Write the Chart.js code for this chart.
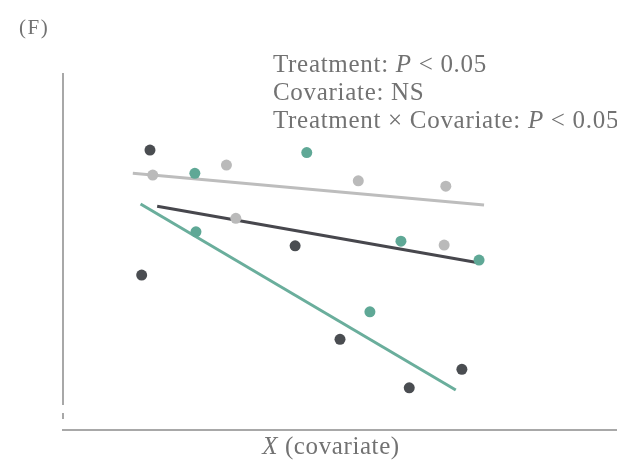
<!DOCTYPE html>
<html lang="en">
<head>
    <meta charset="UTF-8">
    <title>(F) X covariate</title>
    <script src="https://cdn.jsdelivr.net/npm/chart.js@4.4.1/dist/chart.umd.min.js"></script>
    <style>
        html, body { margin: 0; padding: 0; background: #fff; }
        canvas { display: block; }
    </style>
</head>
<body>
    <canvas id="chart" width="617" height="472"></canvas>
    <script>
        // точки трёх групп (x, y в условных единицах 0..100)
        const darkX = [15.7, 14.2, 41.9, 50.0, 62.5, 72.0];
        const darkY = [78.4, 43.4, 51.6, 25.4, 11.8, 17.0];
        const tealX = [23.8, 24.0, 44.0, 61.0, 55.4, 75.1];
        const tealY = [71.9, 55.5, 77.7, 52.9, 33.1, 47.6];
        const greyX = [16.2, 29.5, 31.2, 53.3, 69.1, 68.8];
        const greyY = [71.4, 74.2, 59.3, 69.8, 68.3, 51.8];

        // линии регрессии: начало и конец
        const greyFitX = [12.6, 76.0];
        const greyFitY = [71.9, 63.0];
        const darkFitX = [17.0, 74.7];
        const darkFitY = [62.7, 46.9];
        const tealFitX = [14.0, 70.9];
        const tealFitY = [63.3, 11.2];

        const panelLabel = '(F)';
        const statLines = [
            [['Treatment: ', false], ['P', true], [' < 0.05', false]],
            [['Covariate: NS', false]],
            [['Treatment × Covariate: ', false], ['P', true], [' < 0.05', false]]
        ];
        const xTitle = [['X', true], [' (covariate)', false]];

        const toPoints = (xs, ys) => xs.map((x, i) => ({ x: x, y: ys[i] }));

        const DARK = '#4a4d51';
        const TEAL = '#5fa896';
        const GREY = '#bababa';
        const TEXT = '#727272';

        function drawRich(ctx, parts, x, y, size, spacing, align) {
            const fontOf = it => (it ? 'italic ' : '') + size + 'px "Liberation Serif", "DejaVu Serif", serif';
            ctx.letterSpacing = spacing + 'px';
            let total = 0;
            parts.forEach(p => { ctx.font = fontOf(p[1]); total += ctx.measureText(p[0]).width; });
            let cx = align === 'center' ? x - total / 2 : x;
            ctx.textAlign = 'left';
            ctx.textBaseline = 'alphabetic';
            parts.forEach(p => {
                ctx.font = fontOf(p[1]);
                ctx.fillText(p[0], cx, y);
                cx += ctx.measureText(p[0]).width;
            });
        }

        const decor = {
            id: 'decor',
            afterDraw(chart) {
                const ctx = chart.ctx;
                const a = chart.chartArea;
                ctx.save();
                // оси
                ctx.strokeStyle = '#a8a8a8';
                ctx.lineWidth = 2;
                ctx.beginPath();
                ctx.moveTo(a.left, a.top);
                ctx.lineTo(a.left, a.bottom - 25);
                ctx.moveTo(a.left, a.bottom - 17);
                ctx.lineTo(a.left, a.bottom - 11);
                ctx.moveTo(a.left - 1, a.bottom);
                ctx.lineTo(a.right, a.bottom);
                ctx.stroke();

                ctx.fillStyle = TEXT;
                drawRich(ctx, [[panelLabel, false]], 19, 34, 21, 1.5, 'left');
                statLines.forEach((line, i) => {
                    drawRich(ctx, line, 273, 72 + i * 28, 25, 0.7, 'left');
                });
                drawRich(ctx, xTitle, 331, 454, 25, 0.6, 'center');
                ctx.restore();
            }
        };

        const pointSet = (xs, ys, color) => ({
            type: 'scatter',
            data: toPoints(xs, ys),
            backgroundColor: color,
            borderColor: color,
            pointRadius: 5.5,
            borderWidth: 0,
            order: 1
        });

        const lineSet = (xs, ys, color) => ({
            type: 'line',
            data: toPoints(xs, ys),
            borderColor: color,
            borderWidth: 3,
            pointRadius: 0,
            fill: false,
            tension: 0,
            order: 2
        });

        new Chart(document.getElementById('chart').getContext('2d'), {
            type: 'scatter',
            data: {
                datasets: [
                    lineSet(greyFitX, greyFitY, '#bdbdbd'),
                    lineSet(darkFitX, darkFitY, '#47474d'),
                    lineSet(tealFitX, tealFitY, '#6aae9c'),
                    pointSet(darkX, darkY, DARK),
                    pointSet(greyX, greyY, GREY),
                    pointSet(tealX, tealY, TEAL)
                ]
            },
            options: {
                responsive: false,
                animation: false,
                layout: { autoPadding: false, padding: { left: 63, top: 73, right: 0, bottom: 42 } },
                scales: {
                    x: { type: 'linear', min: 0, max: 100, display: false },
                    y: { type: 'linear', min: 0, max: 100, display: false }
                },
                plugins: {
                    legend: { display: false },
                    tooltip: { enabled: false }
                }
            },
            plugins: [decor]
        });
    </script>
</body>
</html>
